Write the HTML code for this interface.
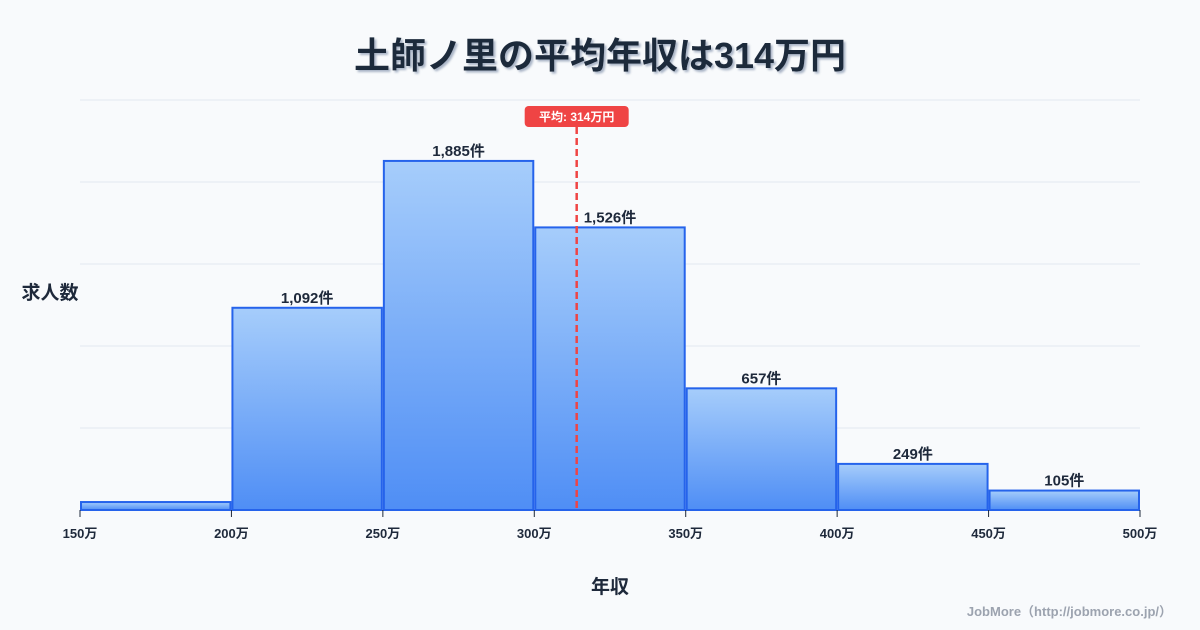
<!DOCTYPE html>
<html><head><meta charset="utf-8"><style>
body{margin:0;background:#f8fafc;}
svg{display:block;font-family:"Liberation Sans","Noto Sans CJK JP",sans-serif;}
</style></head><body>
<svg id="c" width="1200" height="630" viewBox="0 0 1200 630">
<defs><linearGradient id="g" x1="0" y1="0" x2="0" y2="1"><stop offset="0" stop-color="#a6cdfb"/><stop offset="1" stop-color="#4f8ef5"/></linearGradient>
<filter id="sh"><feDropShadow dx="2" dy="2" stdDeviation="1" flood-color="#94a3b8" flood-opacity="0.8"/></filter></defs>
<rect width="1200" height="630" fill="#f8fafc"/>
<text x="600" y="68" text-anchor="middle" font-size="36" font-weight="bold" fill="#1e293b" filter="url(#sh)">土師ノ里の平均年収は314万円</text>
<g id="grid"></g><g id="bars"></g><g id="axis"></g>
<text x="50" y="299" text-anchor="middle" font-size="19" font-weight="bold" fill="#1e293b">求人数</text>
<text x="610" y="593" text-anchor="middle" font-size="19" font-weight="bold" fill="#1e293b">年収</text>
<text x="1172" y="616" text-anchor="end" font-size="13" font-weight="bold" fill="#9ca3af">JobMore（http://jobmore.co.jp/）</text>
</svg>
<script>
const binStarts=[150,200,250,300,350,400,450];
const counts=[43,1092,1885,1526,657,249,105];
const labels=["","1,092件","1,885件","1,526件","657件","249件","105件"];
const xTicks=[150,200,250,300,350,400,450,500];
const meanValue=314;
const meanLabel="平均: 314万円";
const NS="http://www.w3.org/2000/svg";
const x=v=>80+(v-150)/350*1060;
const yMax=2214;
const y=v=>510-v/yMax*410;
function mk(t,a,p){const e=document.createElementNS(NS,t);for(const k in a)e.setAttribute(k,a[k]);p.appendChild(e);return e;}
const grid=document.getElementById('grid'),bars=document.getElementById('bars'),axis=document.getElementById('axis');
for(let i=0;i<=5;i++){const gy=510-i*82;const l=mk('line',{x1:80,x2:1140,y1:gy,y2:gy,stroke:'#e2e8f0','stroke-width':1},grid);

}
binStarts.forEach((b,i)=>{const x0=x(b)+1,x1=x(b+50)-1,yt=y(counts[i]);
const r=mk('rect',{x:x0,y:yt,width:x1-x0,height:510-yt,fill:'url(#g)',stroke:'#2563eb','stroke-width':2},bars);


if(labels[i]){const t=mk('text',{x:(x0+x1)/2,y:yt-5,'text-anchor':'middle','font-size':15,'font-weight':'bold',fill:'#1e293b'},bars);t.textContent=labels[i];

}});
xTicks.forEach(v=>{const tk=mk('line',{x1:x(v),x2:x(v),y1:510,y2:517,stroke:'#1e293b','stroke-width':1},axis);


const t=mk('text',{x:x(v),y:538,'text-anchor':'middle','font-size':13,'font-weight':'bold',fill:'#1e293b'},axis);t.textContent=v+'万';

});
const mx=x(meanValue);
const ml=mk('line',{x1:mx,x2:mx,y1:127,y2:510,stroke:'#ef4444','stroke-width':2.5,'stroke-dasharray':'7,4'},axis);


const mb=mk('rect',{x:mx-52,y:106,width:104,height:21,rx:4,fill:'#ef4444'},axis);


const mt=mk('text',{x:mx,y:121,'text-anchor':'middle','font-size':12,'font-weight':'bold',fill:'#fff'},axis);mt.textContent=meanLabel;


</script>
</body></html>
